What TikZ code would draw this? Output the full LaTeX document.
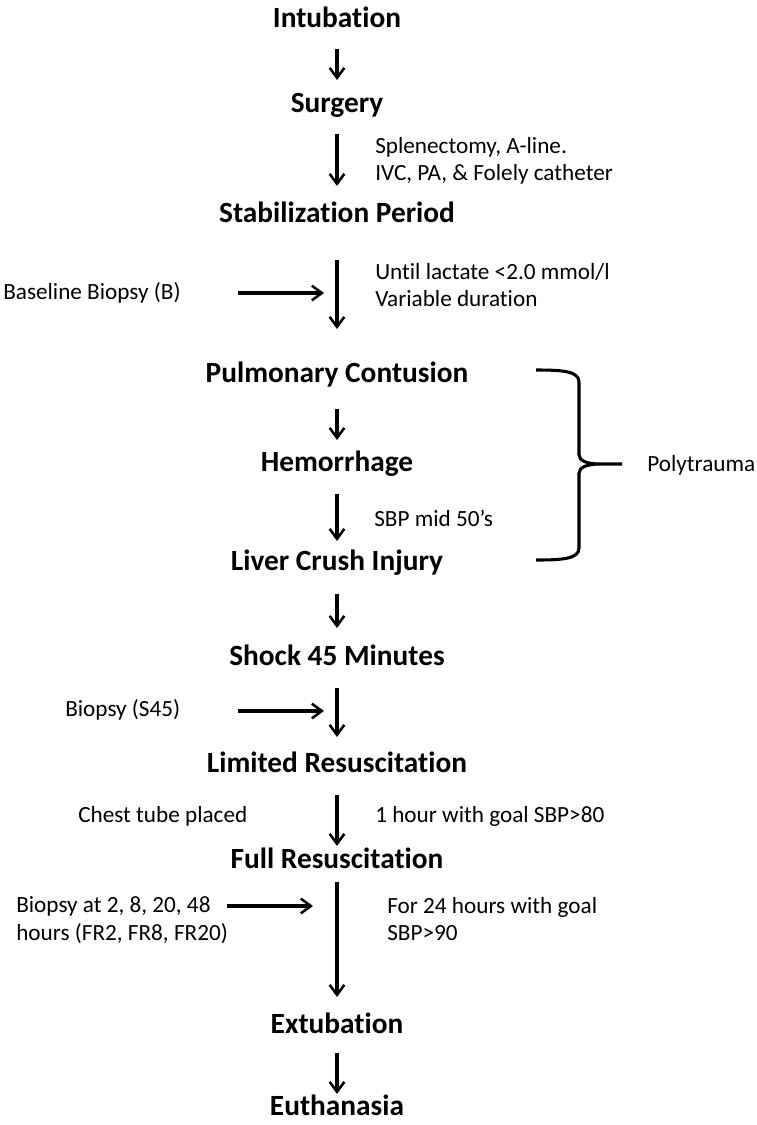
\documentclass[tikz,border=0pt]{standalone}
\usepackage{fontspec}
\setmainfont{Carlito}[Ligatures=NoCommon]
\usetikzlibrary{arrows.meta}
\begin{document}
\begin{tikzpicture}[x=0.75pt,y=-0.75pt,
  head/.style={font=\fontsize{22pt}{26pt}\selectfont\bfseries, inner sep=0pt, anchor=center},
  note/.style={font=\fontsize{17.4pt}{20.5pt}\selectfont, inner sep=0pt, anchor=west, align=left},
  arr/.style={line width=2.3pt, -{Straight Barb[length=7.5pt,width=11pt,line width=1.9pt]}},
  brace/.style={line width=2.3pt, line join=round}]
\useasboundingbox (0,0) rectangle (757,1125);
% headings
\node[head] (intub) at (337,17) {Intubation};
\node[head] (surg) at (337,105) {Surgery};
\node[head] (stab) at (337,212) {Stabilization Period};
\node[head] (pulm) at (337,375) {Pulmonary Contusion};
\node[head] (hem) at (337,464) {Hemorrhage};
\node[head] (liver) at (337,563) {Liver Crush Injury};
\node[head] (shock) at (337,655) {Shock 45 Minutes};
\node[head] (limres) at (337,762) {Limited Resuscitation};
\node[head] (fullres) at (337,858) {Full Resuscitation};
\node[head] (extub) at (337,1023) {Extubation};
\node[head] (euth) at (337,1105) {Euthanasia};
% notes
\node[note] (splen) at (375,161) {Splenectomy, A-line.\\IVC, PA, \& Folely catheter};
\node[note] (lact) at (375,285) {Until lactate <2.0 mmol/l\\Variable duration};
\node[note] (baseb) at (3,293) {Baseline Biopsy (B)};
\node[note] (sbp50) at (374,518) {SBP mid 50’s};
\node[note] (poly) at (647,465) {Polytrauma};
\node[note] (bs45) at (65,710) {Biopsy (S45)};
\node[note] (chest) at (78,816) {Chest tube placed};
\node[note] (onehr) at (375,816) {1 hour with goal SBP>80};
\node[note] (bfr) at (16,920) {Biopsy at 2, 8, 20, 48\\hours (FR2, FR8, FR20)};
\node[note] (for24) at (387,919) {For 24 hours with goal\\SBP>90};
% arrow ends
\coordinate (a1s) at (337,49);  \coordinate (a1e) at (337,80);
\coordinate (a2s) at (337,134); \coordinate (a2e) at (337,186);
\coordinate (a3s) at (337,260); \coordinate (a3e) at (337,329);
\coordinate (a4s) at (337,409); \coordinate (a4e) at (337,440);
\coordinate (a5s) at (337,494); \coordinate (a5e) at (337,541);
\coordinate (a6s) at (337,594); \coordinate (a6e) at (337,628);
\coordinate (a7s) at (337,688); \coordinate (a7e) at (337,737);
\coordinate (a8s) at (337,795); \coordinate (a8e) at (337,846);
\coordinate (a9s) at (337,882); \coordinate (a9e) at (337,997);
\coordinate (a10s) at (337,1053); \coordinate (a10e) at (337,1094);
\coordinate (h1s) at (238,293); \coordinate (h1e) at (324,293);
\coordinate (h2s) at (238,711); \coordinate (h2e) at (324,711);
\coordinate (h3s) at (227,906); \coordinate (h3e) at (313,906);
\draw[arr] (a1s) -- (a1e);
\draw[arr] (a2s) -- (a2e);
\draw[arr] (a3s) -- (a3e);
\draw[arr] (a4s) -- (a4e);
\draw[arr] (a5s) -- (a5e);
\draw[arr] (a6s) -- (a6e);
\draw[arr] (a7s) -- (a7e);
\draw[arr] (a8s) -- (a8e);
\draw[arr] (a9s) -- (a9e);
\draw[arr] (a10s) -- (a10e);
\draw[arr] (h1s) -- (h1e);
\draw[arr] (h2s) -- (h2e);
\draw[arr] (h3s) -- (h3e);
% brace
\coordinate (btop) at (536,370);
\coordinate (btip) at (622,464);
\coordinate (bbot) at (536,560);
\draw[brace] (btop) .. controls (562,370) and (579,371) .. (579,382)
  -- (579,455) .. controls (579,461) and (588,464) .. (600,464) -- (btip)
  (600,464) .. controls (588,464) and (579,467) .. (579,473)
  -- (579,548) .. controls (579,559) and (562,560) .. (bbot);
\end{tikzpicture}
\end{document}
